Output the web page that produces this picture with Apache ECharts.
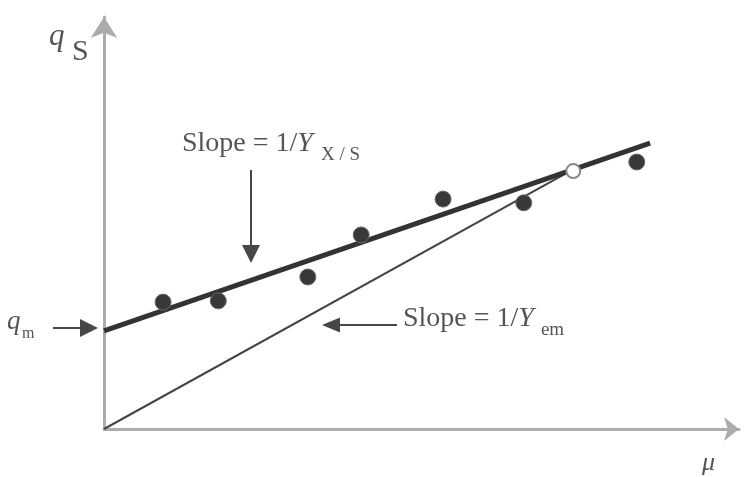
<!DOCTYPE html>
<html>
<head>
<meta charset="utf-8">
<script src="https://cdn.jsdelivr.net/npm/echarts@6/dist/echarts.min.js"></script>
<style>
  html, body { margin: 0; padding: 0; background: #fff; }
  #chart { width: 747px; height: 477px; }
</style>
</head>
<body>
<div id="chart"></div>
<script>
// Specific substrate uptake rate q_S against growth rate mu (arbitrary units)
const muObs = [0.93, 1.80, 3.21, 4.05, 5.34, 6.61, 8.39];
const qsObs = [3.08, 3.11, 3.69, 4.71, 5.58, 5.49, 6.48];

// Observation lying on both lines
const muShared = [7.39];
const qsShared = [6.26];

// Fitted line: q_S = m + mu / Y_X/S (intercept q_m)
const fitMu = [0, 8.60];
const fitQs = [2.38, 6.94];

// Line through the origin: slope 1 / Y_em
const emMu = [0, 7.39];
const emQs = [0, 6.30];

const pairs = (xs, ys) => xs.map((x, i) => [x, ys[i]]);

const SERIF = '"Liberation Serif", "DejaVu Serif", serif';
const INK = '#555';
const ARROW = '#474747';
const MAIN_SIZE = 28;
const SUB_SIZE = 19;

// Text width helper for placing subscripts after the main text
const measureCtx = document.createElement('canvas').getContext('2d');
function textWidth(text, font) {
  measureCtx.font = font;
  return measureCtx.measureText(text).width;
}

// Annotation arrow: shaft plus filled head, in pixels
function arrow(x1, y1, x2, y2, headLen, headW) {
  const dx = x2 - x1, dy = y2 - y1;
  const len = Math.hypot(dx, dy);
  const ux = dx / len, uy = dy / len;
  const bx = x2 - ux * headLen, by = y2 - uy * headLen;
  const px = -uy * headW / 2, py = ux * headW / 2;
  return [
    { type: 'line', shape: { x1: x1, y1: y1, x2: bx, y2: by },
      style: { stroke: ARROW, lineWidth: 2 }, silent: true },
    { type: 'polygon', shape: { points: [[x2, y2], [bx + px, by + py], [bx - px, by - py]] },
      style: { fill: ARROW }, silent: true }
  ];
}

// Slope label "Slope = 1/Y" with a lowered subscript; (x, baseline) in pixels
function slopeLabel(x, baseline, sub, gap) {
  const regFont = MAIN_SIZE + 'px ' + SERIF;
  const itaFont = 'italic ' + MAIN_SIZE + 'px ' + SERIF;
  const subX = x + textWidth('Slope = 1/', regFont) + textWidth('Y', itaFont) + gap;
  return [
    { type: 'text', x: x, y: baseline - 0.3 * MAIN_SIZE, silent: true,
      style: {
        text: '{r|Slope = 1/}{i|Y}',
        fill: INK,
        verticalAlign: 'middle',
        rich: {
          r: { fontFamily: SERIF, fontSize: MAIN_SIZE, fill: INK },
          i: { fontFamily: SERIF, fontSize: MAIN_SIZE, fontStyle: 'italic', fill: INK }
        }
      } },
    { type: 'text', x: subX, y: baseline + 9 - 0.3 * SUB_SIZE, silent: true,
      style: { text: sub, font: SUB_SIZE + 'px ' + SERIF, fill: INK, verticalAlign: 'middle' } }
  ];
}

const chart = echarts.init(document.getElementById('chart'), null, { renderer: 'canvas' });

const axisCommon = {
  type: 'value',
  min: 0,
  max: 10,
  axisTick: { show: false },
  axisLabel: { show: false },
  splitLine: { show: false },
  axisLine: {
    show: true,
    onZero: false,
    symbol: ['none', 'arrow'],
    lineStyle: { color: '#acacac', width: 3 }
  }
};

chart.setOption({
  animation: false,
  backgroundColor: '#fff',
  grid: { left: 104, right: 8, top: 17, bottom: 48 },
  xAxis: Object.assign({}, axisCommon, {
    axisLine: Object.assign({}, axisCommon.axisLine, { symbolSize: [18, 15] })
  }),
  yAxis: Object.assign({}, axisCommon, {
    axisLine: Object.assign({}, axisCommon.axisLine, { symbolSize: [20, 21] })
  }),
  series: [
    {
      type: 'line',
      data: pairs(emMu, emQs),
      symbol: 'none',
      lineStyle: { color: '#444', width: 2 },
      z: 2
    },
    {
      type: 'line',
      data: pairs(fitMu, fitQs),
      symbol: 'none',
      lineStyle: { color: '#333', width: 5 },
      z: 3
    },
    {
      type: 'scatter',
      data: pairs(muObs, qsObs),
      symbol: 'circle',
      symbolSize: 16,
      itemStyle: { color: '#383838', borderColor: '#6a6a6a', borderWidth: 1, opacity: 1 },
      z: 4
    },
    {
      type: 'scatter',
      data: pairs(muShared, qsShared),
      symbol: 'emptyCircle',
      symbolSize: 14,
      itemStyle: { color: '#888', borderColor: '#888', borderWidth: 2, opacity: 1 },
      z: 4
    }
  ],
  graphic: [
    // axis titles
    { type: 'text', x: 49, y: 37, silent: true,
      style: { text: 'q', font: 'italic 31px ' + SERIF, fill: INK, verticalAlign: 'middle' } },
    { type: 'text', x: 72, y: 52, silent: true,
      style: { text: 'S', font: '30px ' + SERIF, fill: INK, verticalAlign: 'middle' } },
    { type: 'text', x: 702, y: 463, silent: true,
      style: { text: 'μ', font: 'italic 26px ' + SERIF, fill: INK, verticalAlign: 'middle' } },
    // intercept label
    { type: 'text', x: 7, y: 322, silent: true,
      style: { text: 'q', font: 'italic 27px ' + SERIF, fill: INK, verticalAlign: 'middle' } },
    { type: 'text', x: 22, y: 334, silent: true,
      style: { text: 'm', font: '16px ' + SERIF, fill: INK, verticalAlign: 'middle' } }
  ]
    .concat(slopeLabel(182, 152, 'X / S', 8))
    .concat(slopeLabel(403, 327, 'em', 7))
    .concat(arrow(251, 170, 251, 263, 18, 18))
    .concat(arrow(397, 325, 322, 325, 18, 15))
    .concat(arrow(53, 328, 98, 328, 18, 18))
});
</script>
</body>
</html>
